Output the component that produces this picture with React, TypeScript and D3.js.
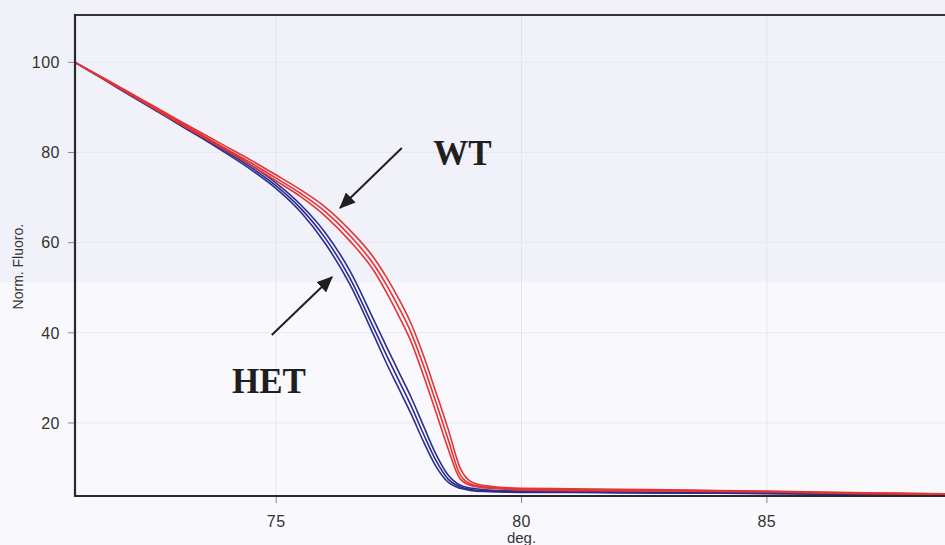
import { useMemo } from "react";
import * as d3 from "d3";

// melt curves, normalised fluorescence vs temperature (deg)
const temps = [70.9, 71.5, 72, 72.5, 73, 73.5, 74, 74.5, 75, 75.5, 76, 76.5, 77, 77.25, 77.5, 77.75, 78, 78.25, 78.5, 78.75, 79, 79.25, 79.5, 80, 81, 82, 83, 84, 85, 86, 87, 88, 88.7];

const wtA = [100, 96.3, 93.2, 90.0, 86.9, 83.8, 80.7, 77.6, 74.3, 70.9, 66.9, 61.6, 55.0, 50.6, 45.6, 40.0, 32.8, 24.8, 16.5, 8.5, 6.3, 5.8, 5.6, 5.3, 5.2, 5.1, 5.0, 4.9, 4.8, 4.6, 4.4, 4.3, 4.2];
const wtB = [100, 96.4, 93.4, 90.3, 87.2, 84.2, 81.2, 78.2, 75.0, 71.7, 67.9, 62.8, 56.5, 52.3, 47.5, 42.0, 35.0, 27.0, 18.8, 10.0, 6.8, 6.1, 5.8, 5.5, 5.4, 5.3, 5.2, 5.0, 4.9, 4.7, 4.5, 4.4, 4.3];
const wtC = [100, 96.2, 93.0, 89.8, 86.6, 83.4, 80.3, 77.1, 73.7, 70.2, 65.9, 60.4, 53.6, 48.9, 43.7, 38.0, 30.6, 22.6, 14.4, 7.6, 6.0, 5.6, 5.4, 5.1, 5.0, 4.9, 4.9, 4.8, 4.7, 4.5, 4.3, 4.2, 4.1];

const hetA = [100, 96.2, 93.0, 89.8, 86.6, 83.4, 80.1, 76.6, 72.6, 67.6, 61.0, 52.2, 40.8, 35.0, 29.4, 23.8, 17.6, 11.8, 7.6, 5.8, 5.2, 5.0, 4.9, 4.8, 4.7, 4.6, 4.5, 4.5, 4.4, 4.3, 4.2, 4.1, 4.1];
const hetB = [100, 96.3, 93.2, 90.0, 86.9, 83.7, 80.5, 77.1, 73.2, 68.4, 62.2, 53.8, 42.6, 36.9, 31.3, 25.7, 19.4, 13.2, 8.5, 6.2, 5.5, 5.2, 5.0, 4.9, 4.8, 4.7, 4.6, 4.6, 4.5, 4.4, 4.3, 4.2, 4.2];
const hetC = [100, 96.1, 92.8, 89.6, 86.3, 83.1, 79.7, 76.1, 72.0, 66.8, 59.8, 50.8, 39.2, 33.2, 27.6, 22.0, 15.9, 10.5, 6.9, 5.5, 5.0, 4.8, 4.7, 4.6, 4.6, 4.5, 4.4, 4.4, 4.3, 4.2, 4.1, 4.0, 4.0];

const xTicks = [75, 80, 85];
const yTicks = [20, 40, 60, 80, 100];

// annotations in data units: [label, textX, textY, arrowFromX, arrowFromY, arrowToX, arrowToY]
const notes: [string, number, number, number, number, number, number][] = [
  ["WT", 78.2, 77.2, 77.56, 81.0, 76.3, 67.7],
  ["HET", 74.1, 26.6, 74.91, 39.5, 76.14, 52.4],
];

const W = 945;
const H = 545;
const RED = "#e63334";
const BLUE = "#2b2e8e";

export default function App() {
  const x = d3.scaleLinear().domain([70.9, 88.63]).range([75, 945]);
  const y = d3.scaleLinear().domain([3.8, 110.5]).range([496, 15]);

  const line = useMemo(
    () =>
      d3
        .line<number>()
        .x((_, i) => x(temps[i]))
        .y((d) => y(d))
        .curve(d3.curveMonotoneX),
    []
  );

  const tickFont = "Arial, 'Liberation Sans', sans-serif";

  return (
    <svg width={W} height={H} style={{ position: "absolute", left: 0, top: 0 }}>
      <defs>
        <marker id="ah" markerUnits="userSpaceOnUse" markerWidth={16} markerHeight={14} refX={15} refY={7} orient="auto">
          <path d="M0,0 L16,7 L0,14 Z" fill="#1f1f1f" />
        </marker>
      </defs>
      <rect x={0} y={0} width={W} height={H} fill="#f9f9fd" />
      <rect x={0} y={0} width={W} height={282} fill="#f1f1fa" />

      {/* faint grid */}
      {xTicks.map((t) => (
        <line key={"gx" + t} x1={x(t)} x2={x(t)} y1={15} y2={496} stroke="#e4e4ee" strokeWidth={1} />
      ))}
      {yTicks.map((t) => (
        <line key={"gy" + t} x1={75} x2={W} y1={y(t)} y2={y(t)} stroke="#e7e7f1" strokeWidth={1} />
      ))}

      {/* curves */}
      {[hetA, hetB, hetC].map((s, i) => (
        <path key={"h" + i} d={line(s) || ""} fill="none" stroke={BLUE} strokeWidth={1.6} />
      ))}
      {[wtA, wtB, wtC].map((s, i) => (
        <path key={"w" + i} d={line(s) || ""} fill="none" stroke={RED} strokeWidth={1.6} />
      ))}

      {/* frame */}
      <line x1={75} x2={W} y1={15} y2={15} stroke="#333" strokeWidth={2} />
      <line x1={75} x2={75} y1={14} y2={497} stroke="#2a2a2a" strokeWidth={2.2} />
      <line x1={74} x2={W} y1={496} y2={496} stroke="#2a2a2a" strokeWidth={2.2} />

      {/* y axis */}
      {yTicks.map((t) => (
        <g key={"yt" + t}>
          <line x1={68} x2={74} y1={y(t)} y2={y(t)} stroke="#888" strokeWidth={1} />
          <text x={60} y={y(t)} dy="0.36em" textAnchor="end" fontFamily={tickFont} fontSize={16} letterSpacing={0.5} fill="#333">
            {t}
          </text>
        </g>
      ))}
      <text
        transform={`translate(23,${y(60) + 24}) rotate(-90)`}
        textAnchor="middle"
        fontFamily={tickFont}
        fontSize={14}
        fill="#333"
      >
        Norm. Fluoro.
      </text>

      {/* x axis */}
      {xTicks.map((t) => (
        <g key={"xt" + t}>
          <line x1={x(t)} x2={x(t)} y1={497} y2={503} stroke="#888" strokeWidth={1} />
          <text x={x(t)} y={527} textAnchor="middle" fontFamily={tickFont} fontSize={16} letterSpacing={0.5} fill="#333">
            {t}
          </text>
        </g>
      ))}
      <text x={x(80)} y={543} textAnchor="middle" fontFamily={tickFont} fontSize={15} fill="#333">
        deg.
      </text>

      {/* annotations */}
      {notes.map(([label, tx, ty, fx, fy, ex, ey]) => (
        <g key={label}>
          <line x1={x(fx)} y1={y(fy)} x2={x(ex)} y2={y(ey)} stroke="#1f1f1f" strokeWidth={2} markerEnd="url(#ah)" />
          <text
            x={x(tx)}
            y={y(ty)}
            fontFamily="'Times New Roman', 'Liberation Serif', serif"
            fontWeight="bold"
            fontSize={35}
            fill="#1f1f1f"
          >
            {label}
          </text>
        </g>
      ))}
    </svg>
  );
}
